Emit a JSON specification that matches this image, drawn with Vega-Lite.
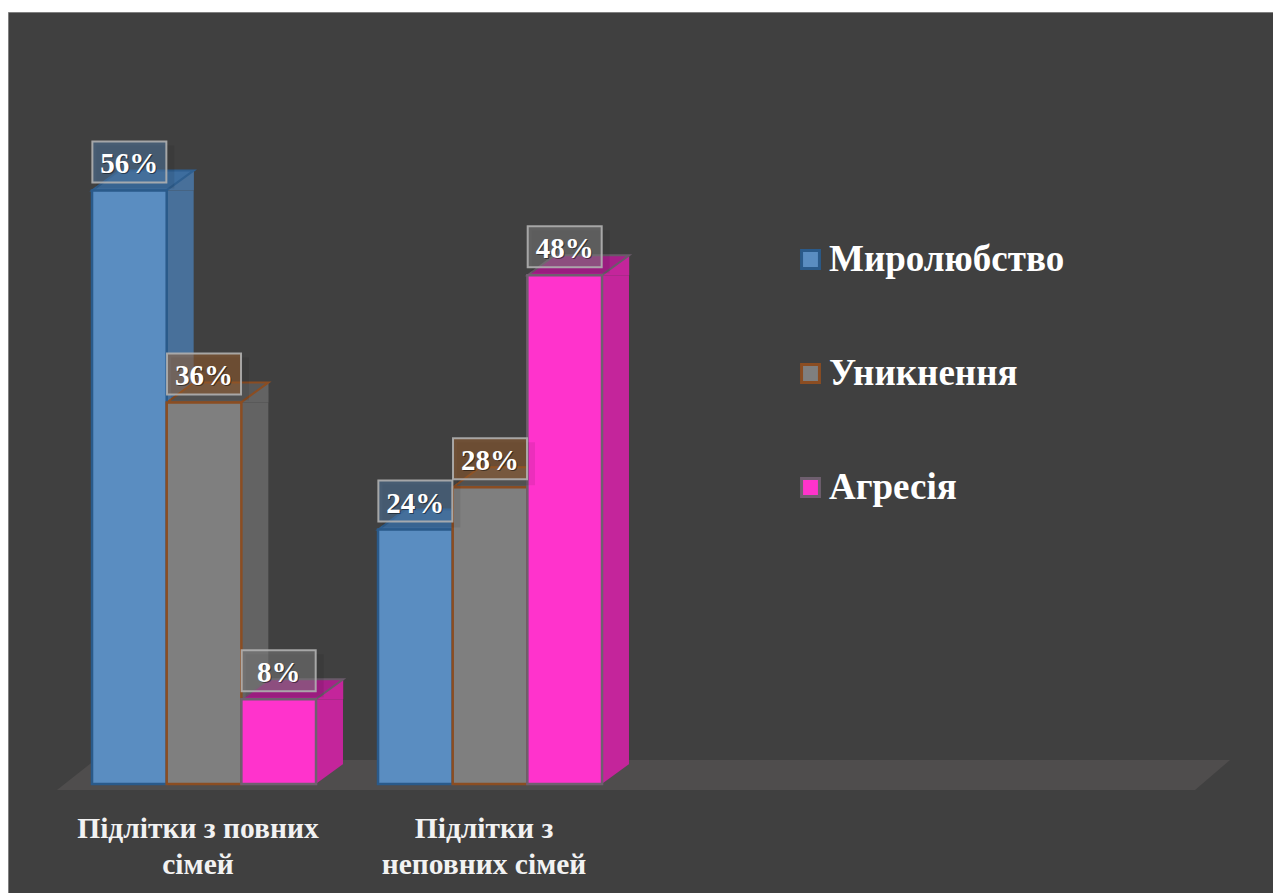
{
  "$schema": "https://vega.github.io/schema/vega-lite/v6.json",
  "autosize": {"type": "none"},
  "padding": {"left": 8, "top": 12, "right": 0, "bottom": 0},
  "background": "#ffffff",
  "width": 1265,
  "height": 881,
  "view": {"fill": "#404040", "stroke": "#808080", "strokeWidth": 1},
  "data": {"values": [
    {"group": "Підлітки з повних сімей", "series": "Миролюбство", "share": 0.56},
    {"group": "Підлітки з повних сімей", "series": "Уникнення", "share": 0.36},
    {"group": "Підлітки з повних сімей", "series": "Агресія", "share": 0.08},
    {"group": "Підлітки з неповних сімей", "series": "Миролюбство", "share": 0.24},
    {"group": "Підлітки з неповних сімей", "series": "Уникнення", "share": 0.28},
    {"group": "Підлітки з неповних сімей", "series": "Агресія", "share": 0.48}
  ]},
  "layer": [
    {
      "data": {"values": [{"group": "Підлітки з повних сімей"}]},
      "mark": {"type": "point", "filled": true, "size": 4, "opacity": 1, "color": "#4f4d4d",
        "shape": "M-147,6 L991,6 L1026,-24 L-109,-24 Z"},
      "encoding": {
        "x": {"field": "group", "type": "nominal",
          "axis": {"title": null, "orient": "bottom", "offset": -83, "ticks": false, "domain": false, "labelAngle": 0,
            "labelOffset": -6, "labelPadding": 4, "labelFont": "Liberation Serif", "labelFontWeight": "bold", "labelFontSize": 29.5,
            "labelLineHeight": 36, "labelColor": "#f2f2f2", "labelLimit": 0, "labelOverlap": false, "labelBound": false, "labelBaseline": "top",
            "labelExpr": "datum.label == 'Підлітки з повних сімей' ? ['Підлітки з повних', 'сімей'] : datum.label == 'Підлітки з неповних сімей' ? ['Підлітки з', 'неповних сімей'] : ''"},
          "scale": {"domain": ["Підлітки з повних сімей", "Підлітки з неповних сімей", " ", "  "], "range": [53, 1197], "paddingInner": 0.217, "paddingOuter": 0.1085}},
        "y": {"datum": 0, "type": "quantitative", "axis": null, "scale": {"domain": [0, 0.6], "range": [772, 136]}}
      }
    },
    {
      "encoding": {
        "x": {"field": "group", "type": "nominal"},
        "xOffset": {"field": "series", "type": "nominal", "scale": {"type": "band", "domain": ["Миролюбство", "Уникнення", "Агресія"], "range": [0, 224], "paddingInner": 0, "paddingOuter": 0}},
        "y": {"field": "share", "type": "quantitative", "stack": null}
      },
      "layer": [
        {
          "mark": {"type": "rule", "strokeWidth": 27, "y2Offset": -20},
          "encoding": {
            "xOffset": {"field": "series", "type": "nominal", "scale": {"type": "band", "domain": ["Миролюбство", "Уникнення", "Агресія"], "range": [50.8, 274.8], "paddingInner": 0, "paddingOuter": 0}},
            "y2": {"datum": 0},
            "stroke": {"field": "series", "type": "nominal", "legend": null,
              "scale": {"domain": ["Миролюбство", "Уникнення", "Агресія"], "range": ["#48709a", "#636363", "#c4259b"]}}
          }
        },
        {
          "mark": {"type": "point", "filled": true, "size": 4, "opacity": 1, "shape": "M37,0 L64.5,-20 L64.5,0 Z"},
          "encoding": {
            "fill": {"field": "series", "type": "nominal", "legend": null,
              "scale": {"domain": ["Миролюбство", "Уникнення", "Агресія"], "range": ["#48709a", "#636363", "#c4259b"]}}
          }
        },
        {
          "mark": {"type": "point", "filled": true, "size": 4, "opacity": 1, "shape": "M37,-20 L64.5,-20 L37,0 Z"},
          "encoding": {
            "y": {"datum": 0, "type": "quantitative"},
            "fill": {"field": "series", "type": "nominal", "legend": null,
              "scale": {"domain": ["Миролюбство", "Уникнення", "Агресія"], "range": ["#48709a", "#636363", "#c4259b"]}}
          }
        },
        {
          "mark": {"type": "point", "filled": true, "size": 4, "opacity": 1, "strokeWidth": 2, "shape": "M-37,0 L-10,-20 L64.5,-20 L37,0 Z"},
          "encoding": {
            "fill": {"field": "series", "type": "nominal", "legend": null,
              "scale": {"domain": ["Миролюбство", "Уникнення", "Агресія"], "range": ["#3d6d9e", "#585858", "#a8208a"]}},
            "stroke": {"field": "series", "type": "nominal", "legend": null,
              "scale": {"domain": ["Миролюбство", "Уникнення", "Агресія"], "range": ["#2f5f8f", "#8b4d22", "#6a5a6a"]}}
          }
        },
        {
          "mark": {"type": "bar", "strokeWidth": 2.5, "opacity": 1},
          "encoding": {
            "y2": {"datum": 0},
            "fill": {"field": "series", "type": "nominal",
              "scale": {"domain": ["Миролюбство", "Уникнення", "Агресія"], "range": ["#5a8dc1", "#7f7f7f", "#ff33cc"]},
              "legend": {"title": null, "orient": "none", "legendX": 784, "legendY": 229, "symbolType": "square", "symbolSize": 320, "symbolStrokeWidth": 3,
                "labelFont": "Liberation Serif", "labelFontWeight": "bold", "labelFontSize": 37, "labelColor": "#ffffff", "labelOffset": 0, "labelLimit": 0, "rowPadding": 76}},
            "stroke": {"field": "series", "type": "nominal",
              "scale": {"domain": ["Миролюбство", "Уникнення", "Агресія"], "range": ["#2a5a8a", "#8b4d22", "#6f5f6f"]},
              "legend": {"title": null, "orient": "none", "legendX": 784, "legendY": 229, "symbolType": "square", "symbolSize": 320, "symbolStrokeWidth": 3,
                "labelFont": "Liberation Serif", "labelFontWeight": "bold", "labelFontSize": 37, "labelColor": "#ffffff", "labelOffset": 0, "labelLimit": 0, "rowPadding": 76}}
          }
        },
        {
          "mark": {"type": "point", "filled": true, "size": 4, "opacity": 0.08, "color": "#000000", "shape": "M-33,-45 H45 V-2 H-33 Z"}
        },
        {
          "mark": {"type": "point", "filled": true, "size": 4, "opacity": 1, "fillOpacity": 0.5, "stroke": "#b0b0b0", "strokeWidth": 2, "strokeOpacity": 0.9, "shape": "M-37,-49 H37 V-8 H-37 Z"},
          "encoding": {
            "fill": {"field": "series", "type": "nominal", "legend": null,
              "scale": {"domain": ["Миролюбство", "Уникнення", "Агресія"], "range": ["#4f7aa5", "#9e5f2c", "#808080"]}}
          }
        },
        {
          "mark": {"type": "text", "font": "Liberation Serif", "fontWeight": "bold", "fontSize": 29, "color": "#000000", "opacity": 0.45, "dx": 1, "dy": -25, "baseline": "middle", "align": "center"},
          "encoding": {"text": {"field": "share", "type": "quantitative", "format": ".0%"}}
        },
        {
          "mark": {"type": "text", "font": "Liberation Serif", "fontWeight": "bold", "fontSize": 29, "color": "#ffffff", "dy": -26, "baseline": "middle", "align": "center"},
          "encoding": {"text": {"field": "share", "type": "quantitative", "format": ".0%"}}
        }
      ],
      "resolve": {"scale": {"fill": "independent", "stroke": "independent", "xOffset": "independent"}}
    }
  ]
}
